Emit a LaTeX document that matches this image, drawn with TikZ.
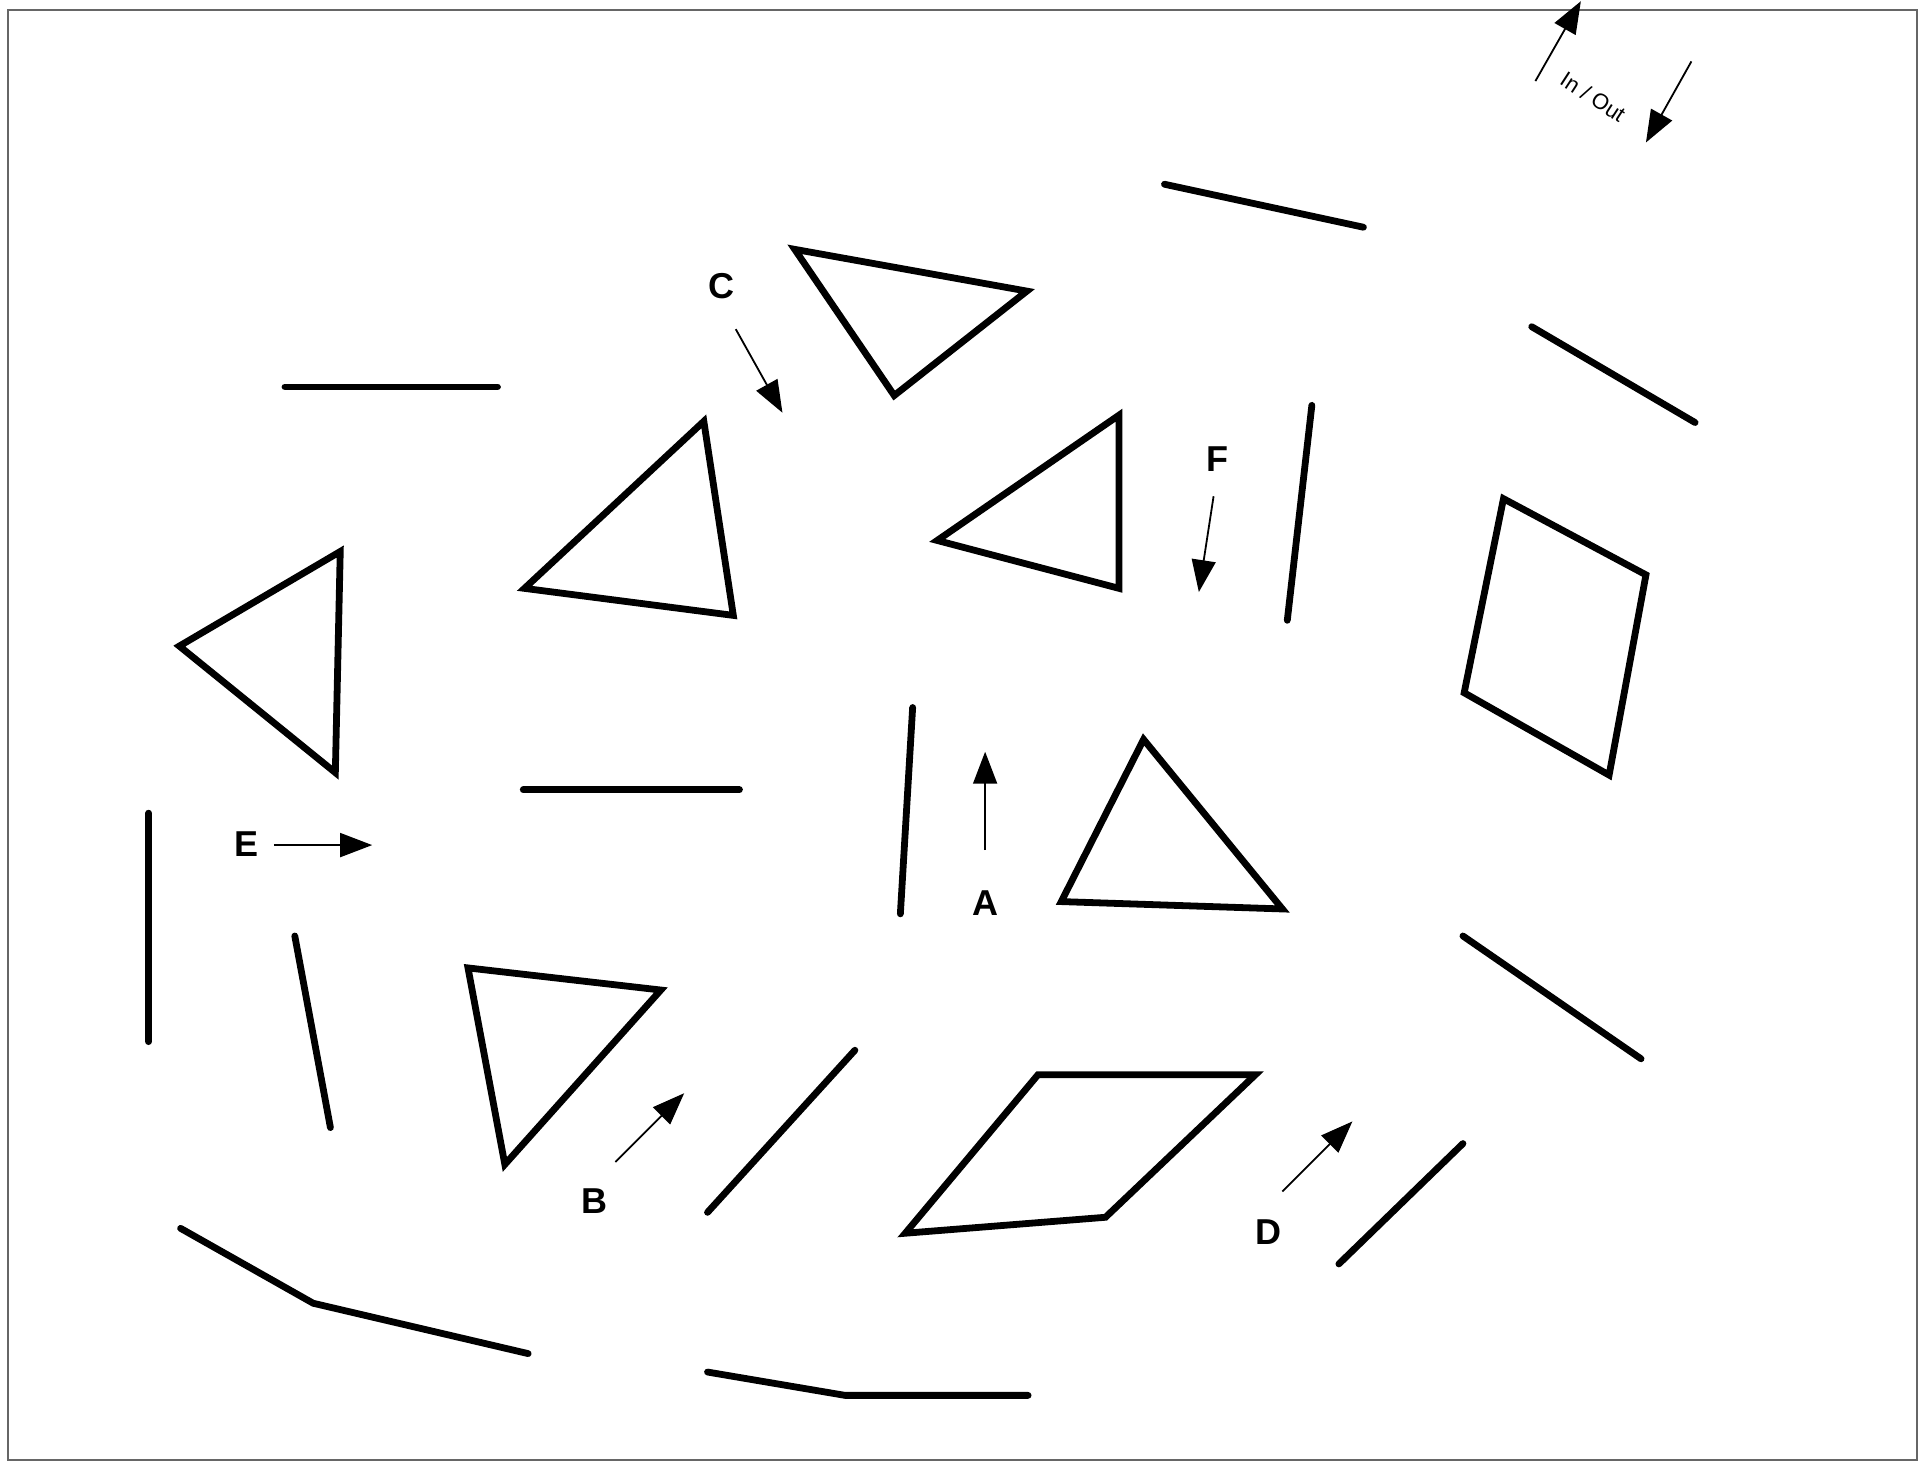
\documentclass[tikz,border=0pt]{standalone}
\usepackage{fontspec}
\setmainfont{Liberation Sans}
\usetikzlibrary{arrows.meta}
\begin{document}
\begin{tikzpicture}[x=0.6142pt,y=-0.6142pt,
  wall/.style={line width=3.4pt,line cap=round,line join=miter},
  flow/.style={line width=0.9pt,-{Triangle[length=16pt,width=12pt]}},
  lbl/.style={font=\bfseries\fontsize{18}{21}\selectfont,inner sep=0pt}]
\useasboundingbox (0,0) rectangle (1568,1190);
\draw[line width=1pt,draw=black!60] (6.5,8) rectangle (1561,1188.5);
% triangles
\draw[wall] (647,203) -- (836,237) -- (728,322) -- cycle;
\draw[wall] (573,343) -- (597,501) -- (427,479) -- cycle;
\draw[wall] (911,338) -- (911,479) -- (763,440) -- cycle;
\draw[wall] (277,449) -- (273,629) -- (146,526) -- cycle;
\draw[wall] (931,602) -- (1044,740) -- (864,734) -- cycle;
\draw[wall] (381,788) -- (538,806) -- (411,948) -- cycle;
% quadrilaterals
\draw[wall] (1224,406) -- (1340,468) -- (1310,631) -- (1192,564) -- cycle;
\draw[wall] (845,875) -- (1022,875) -- (900,991) -- (737,1004) -- cycle;
% straight walls
\draw[wall] (948,150) -- (1110,185);
\draw[wall] (1247,266) -- (1380,344);
\draw[wall] (232,315) -- (405,315);
\draw[wall] (1068,330) -- (1048,505);
\draw[wall] (426,643) -- (602,643);
\draw[wall] (743,576) -- (733,744);
\draw[wall] (121,662) -- (121,848);
\draw[wall] (240,762) -- (269,918);
\draw[wall] (696,855) -- (576,987);
\draw[wall] (1191,762) -- (1336,862);
\draw[wall] (1191,931) -- (1090,1029);
\draw[wall] (147,1000) -- (255,1061) -- (430,1102);
\draw[wall] (576,1117) -- (688,1136) -- (837,1136);
% labels
\node[lbl] (C) at (587,233) {C};
\node[lbl] (F) at (991,374) {F};
\node[lbl] (A) at (802,735) {A};
\node[lbl] (E) at (201,687) {E};
\node[lbl] (B) at (484,978) {B};
\node[lbl] (D) at (1033,1003) {D};
\node[font=\fontsize{11}{13}\selectfont,rotate=-33,inner sep=0pt] (io) at (1297,79) {In / Out};
% arrow endpoints
\coordinate (c1) at (599,268); \coordinate (c2) at (637,336);
\coordinate (f1) at (988,404); \coordinate (f2) at (976,482);
\coordinate (a1) at (802,692); \coordinate (a2) at (802,612);
\coordinate (e1) at (223,688); \coordinate (e2) at (303,688);
\coordinate (b1) at (501,946); \coordinate (b2) at (557,890);
\coordinate (d1) at (1044,970); \coordinate (d2) at (1101,913);
\coordinate (i1) at (1250,66); \coordinate (i2) at (1287,1);
\coordinate (o1) at (1377,50); \coordinate (o2) at (1340,116);
\draw[flow] (c1) -- (c2);
\draw[flow] (f1) -- (f2);
\draw[flow] (a1) -- (a2);
\draw[flow] (e1) -- (e2);
\draw[flow] (b1) -- (b2);
\draw[flow] (d1) -- (d2);
\draw[flow] (i1) -- (i2);
\draw[flow] (o1) -- (o2);
\end{tikzpicture}
\end{document}
